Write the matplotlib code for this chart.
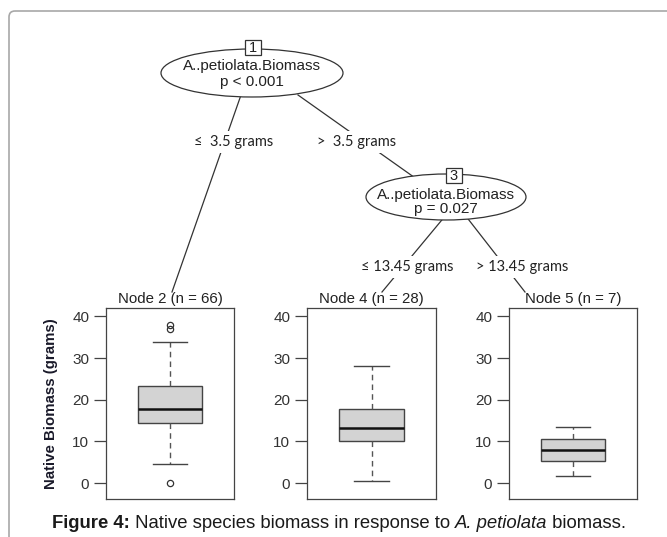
import matplotlib
matplotlib.use('Agg')
import matplotlib.pyplot as plt
from matplotlib.patches import Ellipse, FancyBboxPatch, Rectangle

plt.rcParams['font.family'] = ['Liberation Sans', 'DejaVu Sans']

# terminal node summaries (grams)
node_titles = ['Node 2 (n = 66)', 'Node 4 (n = 28)', 'Node 5 (n = 7)']
whis_lo = [4.7, 0.6, 1.8]
q1 = [14.4, 10.0, 5.4]
medians = [17.7, 13.2, 8.0]
q3 = [23.3, 17.7, 10.5]
whis_hi = [33.9, 28.1, 13.4]
outliers = [[0.1, 37.0, 38.0], [], []]
y_ticks = [0, 10, 20, 30, 40]

# inner nodes and split labels
inner_ids = ['1', '3']
inner_var = ['A..petiolata.Biomass', 'A..petiolata.Biomass']
inner_p = ['p < 0.001', 'p = 0.027']
split_labels = ['\u2264  3.5 grams', '>  3.5 grams', '\u2264 13.45 grams', '> 13.45 grams']

caption = ['Figure 4:', ' Native species biomass in response to ', 'A. petiolata', ' biomass.']
caption_style = [('bold', 'normal'), ('normal', 'normal'), ('normal', 'italic'), ('normal', 'normal')]

W, H = 667, 537
fig = plt.figure(figsize=(W / 100, H / 100), dpi=100)

# overlay in pixel coordinates for the tree drawing
ov = fig.add_axes([0, 0, 1, 1])
ov.set_xlim(0, W)
ov.set_ylim(H, 0)
ov.axis('off')

frame = FancyBboxPatch((9, 11), 700, 600, boxstyle='round,pad=0,rounding_size=6',
                       fc='none', ec='#a8a8a8', lw=1.2, clip_on=False)
ov.add_patch(frame)

line_kw = dict(color='#333333', lw=0.9, zorder=1)
# edges
ov.plot([241, 172], [95, 292], **line_kw)
ov.plot([298, 418], [95, 180], **line_kw)
ov.plot([446, 382], [215, 292], **line_kw)
ov.plot([465, 525], [215, 292], **line_kw)

# inner nodes
ell_xy = [(252, 73), (446, 197)]
ell_wh = [(182, 48), (160, 46)]
id_xy = [(253, 47), (454, 175)]
txt_off = [(-7, 9), (-2, 12)]
for i in range(len(inner_ids)):
    (cx, cy), (ew, eh) = ell_xy[i], ell_wh[i]
    ov.add_patch(Ellipse((cx, cy), ew, eh, fc='white', ec='#333333', lw=0.9, zorder=2))
    ov.text(cx, cy + txt_off[i][0], inner_var[i], ha='center', va='center', fontsize=11,
            color='#222222', zorder=3)
    ov.text(cx, cy + txt_off[i][1], inner_p[i], ha='center', va='center', fontsize=11,
            color='#222222', zorder=3)
    bx, by = id_xy[i]
    ov.add_patch(Rectangle((bx - 8, by - 7), 16, 15, fc='white', ec='#333333', lw=0.9, zorder=3))
    ov.text(bx, by + 0.5, inner_ids[i], ha='center', va='center', fontsize=10.5, color='#222222',
            zorder=4)

label_xy = [(234, 142), (357, 142), (407, 267), (522, 267)]
for lab, (lx, ly) in zip(split_labels, label_xy):
    ov.text(lx, ly, lab, ha='center', va='center', fontsize=10.5, family=['Lato', 'DejaVu Sans'],
            color='#222222', zorder=3,
            bbox=dict(fc='white', ec='none', pad=3))

# terminal panels
panel_x = [(106, 234), (307, 436), (509, 637)]
top, bottom = 308, 499
for i in range(3):
    x0, x1 = panel_x[i]
    ax = fig.add_axes([x0 / W, 1 - bottom / H, (x1 - x0) / W, (bottom - top) / H])
    stats = [dict(med=medians[i], q1=q1[i], q3=q3[i], whislo=whis_lo[i], whishi=whis_hi[i],
                  fliers=outliers[i])]
    ax.bxp(stats, positions=[1], widths=0.5, capwidths=0.27, patch_artist=True,
           boxprops=dict(facecolor='#d3d3d3', edgecolor='#444444', lw=1.0),
           medianprops=dict(color='#111111', lw=1.8),
           whiskerprops=dict(color='#555555', lw=1.0, ls=(0, (4, 3))),
           capprops=dict(color='#444444', lw=1.0),
           flierprops=dict(marker='o', mfc='none', mec='#333333', ms=4.5, mew=0.9))
    ax.set_xlim(0.5, 1.5)
    ax.set_ylim(-3.8, 42)
    ax.set_yticks(y_ticks)
    ax.set_xticks([])
    ax.tick_params(axis='y', length=9, width=0.9, color='#444444', labelcolor='#333333',
                   labelsize=11, pad=3)
    for s in ax.spines.values():
        s.set_color('#444444')
        s.set_linewidth(0.9)
    ov.text((x0 + x1) / 2, 299, node_titles[i], ha='center', va='center', fontsize=10.8,
            color='#222222', zorder=3)

fig.text(51 / W, 1 - 404 / H, 'Native Biomass (grams)', rotation=90, ha='center', va='center',
         fontsize=10.8, fontweight='bold', color='#1a1a2a')

# caption, assembled from pieces with mixed styles
fig.canvas.draw()
renderer = fig.canvas.get_renderer()
pieces = []
for txt, (wt, st) in zip(caption, caption_style):
    t = fig.text(0, 1 - 524 / H, txt, ha='left', va='center', fontsize=13.3, fontweight=wt,
                 fontstyle=st, color='#1a1a1a')
    pieces.append(t)
widths = [p.get_window_extent(renderer).width for p in pieces]
x = 339 - sum(widths) / 2
for p, w in zip(pieces, widths):
    p.set_x(x / W)
    x += w

fig.savefig('out.png', dpi=100)
